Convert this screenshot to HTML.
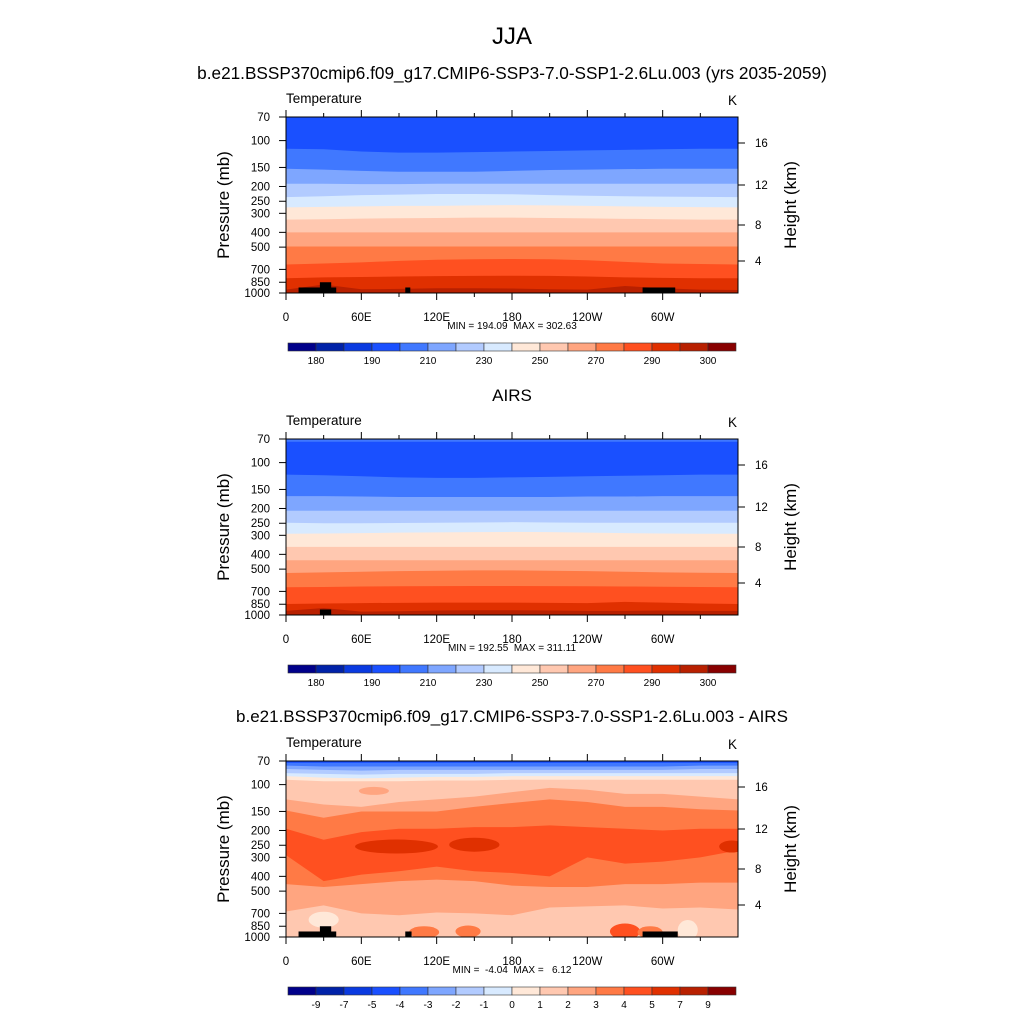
<!DOCTYPE html>
<html><head><meta charset="utf-8">
<style>
body{margin:0;background:#fff;}
svg{display:block;font-family:"Liberation Sans",sans-serif;}
.pre{white-space:pre;}
</style></head>
<body>
<svg id="fig" width="1024" height="1024" viewBox="0 0 1024 1024" xmlns="http://www.w3.org/2000/svg">
<text x="512" y="44" font-size="24" text-anchor="middle">JJA</text>
<text x="512" y="79" font-size="17.2" text-anchor="middle">b.e21.BSSP370cmip6.f09_g17.CMIP6-SSP3-7.0-SSP1-2.6Lu.003 (yrs 2035-2059)</text>
<text x="512" y="401" font-size="17" text-anchor="middle">AIRS</text>
<text x="512" y="722" font-size="17" text-anchor="middle">b.e21.BSSP370cmip6.f09_g17.CMIP6-SSP3-7.0-SSP1-2.6Lu.003 - AIRS</text>
</svg>
<script>
// ---- data ----
const colors = ['#00008a','#0022a8','#0a3ae0','#1a50ff','#4078ff','#7ea6ff','#b2cbff','#d8eaff','#ffe8d8','#ffc8b0','#ffa580','#ff7a45','#ff5020','#e03000','#b82000','#880000'];
const lons = [0,30,60,90,120,150,180,210,240,270,300,330,360];
const pressureTicks = [70,100,150,200,250,300,400,500,700,850,1000];
const heightTicks = ['16','12','8','4'];
const lonTickLabels = ['0','60E','120E','180','120W','60W'];
const cbLabelsAbs = ['180','190','210','230','250','270','290','300'];
const cbLabelsDiff = ['-9','-7','-5','-4','-3','-2','-1','0','1','2','3','4','5','7','9'];
const p1Idx = [3,4,5,6,7,8,9,10,11,12,13,14];
const p1Top = [
 [70,70,70,70,70,70,70,70,70,70,70,70,70],
 [113,114,118,120,120,119,118,117,116,115,114,113,113],
 [153,155,158,160,160,160,158,156,155,154,153,153,153],
 [192,192,193,193,192,192,192,192,192,192,192,192,192],
 [235,232,228,226,224,224,225,228,230,232,233,234,235],
 [274,272,270,268,268,266,265,266,268,270,272,273,274],
 [330,328,325,323,322,320,320,322,324,326,328,330,330],
 [400,400,400,400,400,400,400,400,400,400,400,400,400],
 [495,495,495,495,495,495,495,495,495,495,495,495,495],
 [650,640,630,615,605,600,598,600,610,625,640,645,650],
 [800,790,785,780,775,772,770,772,780,790,795,800,800],
 [950,880,945,940,930,930,935,945,950,900,930,950,955]
];
const p2Idx = [4,3,4,5,6,7,8,9,10,11,12,13,14];
const p2Top = [
 [70,70,70,70,70,70,70,70,70,70,70,70,70],
 [73,73,73,73,73,73,73,73,73,73,73,73,73],
 [120,121,123,125,126,126,125,124,123,122,121,120,120],
 [166,166,167,168,168,168,168,168,167,167,166,166,166],
 [207,207,207,207,207,207,207,207,207,207,207,207,207],
 [248,250,250,249,248,247,246,247,248,248,248,248,248],
 [293,292,290,288,287,286,285,286,288,290,292,293,293],
 [357,357,357,357,357,357,357,357,357,357,357,357,357],
 [437,437,437,437,437,437,437,437,437,437,437,437,437],
 [530,525,520,515,512,510,510,512,515,520,525,528,530],
 [658,655,650,648,646,645,645,646,648,650,652,655,658],
 [847,840,835,832,830,830,830,832,835,820,830,840,847],
 [940,900,950,945,935,930,930,935,940,940,935,940,940]
];
const p3Idx = [3,4,5,6,7,8,9,10,11,12,11,10,9];
const p3Top = [
 [70,70,70,70,70,70,70,70,70,70,70,70,70],
 [72,72,72,72,72,72,72,72,72,72,72,72,72],
 [75,76,76,76,76,76,76,76,76,76,76,75,75],
 [79,80,81,80,80,80,80,80,80,80,80,79,79],
 [84,85,86,85,85,85,84,84,84,84,84,84,84],
 [88,90,91,90,89,89,88,88,88,88,88,88,88],
 [93,95,95,95,94,94,93,93,93,93,93,93,93],
 [125,135,140,130,125,120,112,105,108,115,115,120,125],
 [148,165,150,150,150,140,132,125,130,140,140,145,148],
 [195,230,205,195,195,190,190,185,190,195,200,195,195],
 [290,430,390,370,345,370,380,400,300,330,320,300,270],
 [450,470,450,430,420,430,460,470,470,450,450,440,440],
 [680,620,700,720,690,700,720,640,630,620,650,640,660]
];
const p3Patches = [
 [13,88,255,33,7],[13,150,248,20,7],[13,355,255,10,6],
 [10,70,110,12,4],[8,320,900,8,10],[8,30,770,12,8],
 [11,110,930,12,6],[11,145,920,10,6],[12,270,920,12,8],[11,290,930,10,6]
];
const terrain1 = [[10,40,920],[27,36,850],[95,99,920],[284,310,920]];
const terrain2 = [[27,36,920]];
const terrain3 = [[10,40,920],[27,36,850],[95,100,920],[284,312,920]];
const minmax = ['MIN = 194.09  MAX = 302.63','MIN = 192.55  MAX = 311.11','MIN =  -4.04  MAX =   6.12'];

// ---- drawing ----
const NS='http://www.w3.org/2000/svg';
const svg=document.getElementById('fig');
const X0=286, X1=738, H=176;
function mk(tag,attrs,parent){const e=document.createElementNS(NS,tag);for(const k in attrs)e.setAttribute(k,attrs[k]);(parent||svg).appendChild(e);return e;}
function xs(lon){return X0+(X1-X0)*lon/360;}
function ys(top,p){return top+H*Math.log10(p/70)/Math.log10(1000/70);}

function panel(top, idx, tops, patches, terrain, mm, labels, labelEvery, pnum){
  const g=mk('g',{});
  
  
  const clip=mk('clipPath',{id:'clip'+pnum},g);
  mk('rect',{x:X0,y:top,width:X1-X0,height:H},clip);
  const fills=mk('g',{'clip-path':'url(#clip'+pnum+')'},g);
  idx.forEach((ci,li)=>{
    let d='M'+xs(lons[0])+','+(top+H+2);
    lons.forEach((lo,i)=>{d+=' L'+xs(lo)+','+ys(top,tops[li][i]);});
    d+=' L'+xs(360)+','+(top+H+2)+' Z';
    const pth=mk('path',{d:d,fill:colors[ci]},fills);
    
    
  });
  patches.forEach(pt=>{
    const e=mk('ellipse',{cx:xs(pt[1]),cy:ys(top,pt[2]),rx:(X1-X0)*pt[3]/360,ry:pt[4],fill:colors[pt[0]]},fills);
    
    
  });
  terrain.forEach(t=>{
    const r=mk('rect',{x:xs(t[0]),y:ys(top,t[2]),width:xs(t[1])-xs(t[0]),height:top+H-ys(top,t[2]),fill:'#000'},fills);
    
    
  });
  const fr=mk('rect',{x:X0,y:top,width:X1-X0,height:H,fill:'none',stroke:'#000','stroke-width':1},g);
  
  
  for(let lo=0;lo<=330;lo+=30){
    const major=lo%60===0, L=major?7:4;
    mk('line',{x1:xs(lo),x2:xs(lo),y1:top+H,y2:top+H+L,stroke:'#000'},g);
    mk('line',{x1:xs(lo),x2:xs(lo),y1:top,y2:top-L,stroke:'#000'},g);
    if(major){const t=mk('text',{x:xs(lo),y:top+H+28,'font-size':11.5,'text-anchor':'middle'},g);t.textContent=lonTickLabels[lo/60];
      }
  }
  pressureTicks.forEach(p=>{
    const y=ys(top,p);
    mk('line',{x1:X0-7,x2:X0,y1:y,y2:y,stroke:'#000'},g);
    const t=mk('text',{x:X0-16,y:y+4,'font-size':11.5,'text-anchor':'end'},g);t.textContent=p;
    
  });
  const hOff=[26,68,108,144];
  heightTicks.forEach((h,i)=>{
    const y=top+hOff[i];
    mk('line',{x1:X1,x2:X1+7,y1:y,y2:y,stroke:'#000'},g);
    const t=mk('text',{x:X1+17,y:y+4,'font-size':11.5},g);t.textContent=h;
    
  });
  let t=mk('text',{x:0,y:0,'font-size':17,'text-anchor':'middle',transform:'translate(229,'+(top+88)+') rotate(-90)'},g);t.textContent='Pressure (mb)';
  
  t=mk('text',{x:0,y:0,'font-size':17,'text-anchor':'middle',transform:'translate(796,'+(top+88)+') rotate(-90)'},g);t.textContent='Height (km)';
  
  t=mk('text',{x:X0,y:top-14,'font-size':13.5},g);t.textContent='Temperature';
  
  t=mk('text',{x:X1-1,y:top-12,'font-size':13.5,'text-anchor':'end'},g);t.textContent='K';
  
  t=mk('text',{x:512,y:top+H+36,'font-size':10,'text-anchor':'middle','class':'pre'},g);t.textContent=mm;
  
  const cb=mk('g',{},g);
  
  
  const cy=top+226, bw=28;
  colors.forEach((c,i)=>{
    mk('rect',{x:288+i*bw,y:cy,width:bw,height:8,fill:c,stroke:'#333','stroke-width':0.6},cb);
  });
  labels.forEach((l,i)=>{
    const b=labelEvery===2?1+2*i:1+i;
    const tt=mk('text',{x:288+b*bw,y:cy+21,'font-size':10,'text-anchor':'middle'},cb);tt.textContent=l;
    
  });
}
panel(117,p1Idx,p1Top,[],terrain1,minmax[0],cbLabelsAbs,2,1);
panel(439,p2Idx,p2Top,[],terrain2,minmax[1],cbLabelsAbs,2,2);
panel(761,p3Idx,p3Top,p3Patches,terrain3,minmax[2],cbLabelsDiff,1,3);
</script>
</body></html>
